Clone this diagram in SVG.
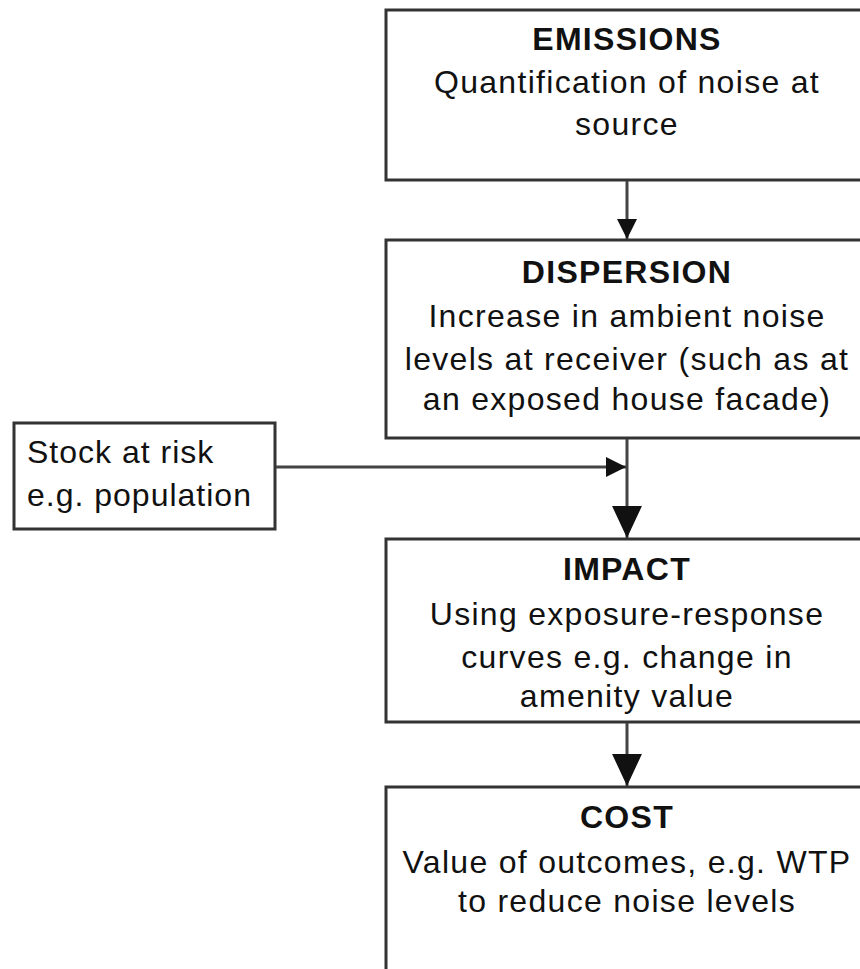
<svg xmlns="http://www.w3.org/2000/svg" width="860" height="969" viewBox="0 0 860 969">
<style>
.box{fill:#fff;stroke:#333;stroke-width:3}
.t{font-family:"Liberation Sans",Arial,sans-serif;font-size:32px;letter-spacing:1.3px;fill:#111;text-anchor:middle}
.b{font-weight:bold}
.l{text-anchor:start;letter-spacing:1px}
.c{fill:none;stroke:#444;stroke-width:3}
</style>
<defs>
<marker id="small" markerUnits="userSpaceOnUse" markerWidth="20" markerHeight="20" viewBox="0 0 18 18" refX="18" refY="9" orient="auto">
<path d="M0,0 L18,9 L0,18 Z" fill="#111"/>
</marker>
<marker id="big" markerUnits="userSpaceOnUse" markerWidth="32" markerHeight="30" viewBox="0 0 30 28" refX="30" refY="14" orient="auto">
<path d="M0,0 L30,14 L0,28 Z" fill="#111"/>
</marker>
</defs>
<rect width="860" height="969" fill="#fff"/>
<g id="emissions">
<rect class="box" x="386" y="10" width="490" height="170"/>
<text class="t b" x="627" y="50">EMISSIONS</text>
<text class="t" x="627" y="93">Quantification of noise at</text>
<text class="t" x="627" y="135">source</text>
</g>
<g id="dispersion">
<rect class="box" x="386" y="240" width="490" height="198"/>
<text class="t b" x="627" y="283">DISPERSION</text>
<text class="t" x="627" y="327">Increase in ambient noise</text>
<text class="t" x="627" y="370">levels at receiver (such as at</text>
<text class="t" x="627" y="410">an exposed house facade)</text>
</g>
<g id="stock">
<rect class="box" x="14" y="423" width="261" height="106"/>
<text class="t l" x="27" y="463">Stock at risk</text>
<text class="t l" x="27" y="506">e.g. population</text>
</g>
<g id="impact">
<rect class="box" x="386" y="539" width="490" height="183"/>
<text class="t b" x="627" y="580">IMPACT</text>
<text class="t" x="627" y="625">Using exposure-response</text>
<text class="t" x="627" y="668">curves e.g. change in</text>
<text class="t" x="627" y="707">amenity value</text>
</g>
<g id="cost">
<rect class="box" x="386" y="787" width="490" height="200"/>
<text class="t b" x="627" y="828">COST</text>
<text class="t" x="627" y="873">Value of outcomes, e.g. WTP</text>
<text class="t" x="627" y="912">to reduce noise levels</text>
</g>
<g id="connectors">
<line class="c" x1="627" y1="181" x2="627" y2="239" marker-end="url(#small)"/>
<line class="c" x1="276" y1="467" x2="626" y2="467" marker-end="url(#small)"/>
<line class="c" x1="627" y1="439" x2="627" y2="538" marker-end="url(#big)"/>
<line class="c" x1="627" y1="723" x2="627" y2="786" marker-end="url(#big)"/>
</g>
</svg>
